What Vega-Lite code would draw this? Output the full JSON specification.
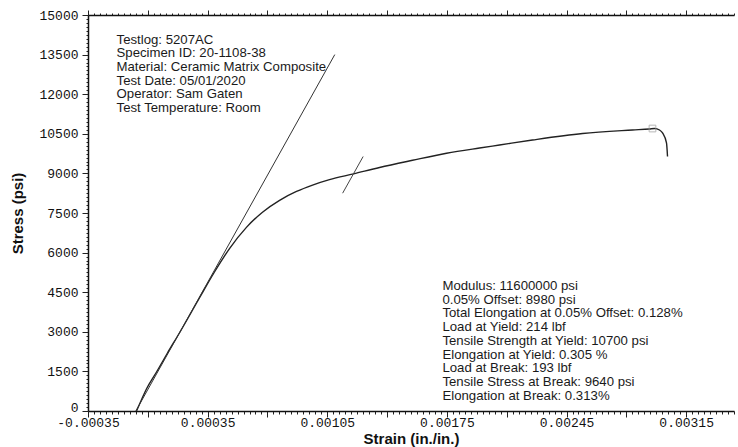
{
  "$schema": "https://vega.github.io/schema/vega-lite/v6.json",
  "autosize": "none",
  "width": 646,
  "height": 396,
  "padding": {"left": 88, "top": 15, "right": 4, "bottom": 36},
  "background": "white",
  "config": {
    "view": {"stroke": null},
    "axis": {
      "domainColor": "#111",
      "domainWidth": 1.5,
      "tickColor": "#222",
      "tickWidth": 1,
      "grid": false,
      "labelFont": "Liberation Mono",
      "labelFontSize": 13,
      "labelColor": "#111",
      "titleFont": "Liberation Sans",
      "titleFontSize": 15,
      "titleFontWeight": "bold",
      "titleColor": "#111",
      "labelOverlap": false,
      "labelFlush": false,
      "labelBound": false
    }
  },
  "resolve": {"axis": {"x": "independent", "y": "independent"}},
  "layer": [
    {
      "description": "Stress-strain curve of the specimen, with the bottom and left axes",
      "data": {
        "name": "curve",
        "values": [
          {"strain": -0.000066, "stress": 0},
          {"strain": -0.000043, "stress": 341},
          {"strain": -0.000008, "stress": 833},
          {"strain": 0.000051, "stress": 1477},
          {"strain": 0.000115, "stress": 2197},
          {"strain": 0.000185, "stress": 2955},
          {"strain": 0.000302, "stress": 4280},
          {"strain": 0.00039, "stress": 5265},
          {"strain": 0.000478, "stress": 6152},
          {"strain": 0.000577, "stress": 6955},
          {"strain": 0.000671, "stress": 7531},
          {"strain": 0.000771, "stress": 7981},
          {"strain": 0.00087, "stress": 8315},
          {"strain": 0.000964, "stress": 8557},
          {"strain": 0.001063, "stress": 8762},
          {"strain": 0.001204, "stress": 8980},
          {"strain": 0.001356, "stress": 9224},
          {"strain": 0.001549, "stress": 9496},
          {"strain": 0.001748, "stress": 9762},
          {"strain": 0.001941, "stress": 9962},
          {"strain": 0.002058, "stress": 10076},
          {"strain": 0.002251, "stress": 10265},
          {"strain": 0.002544, "stress": 10512},
          {"strain": 0.002836, "stress": 10644},
          {"strain": 0.002935, "stress": 10682},
          {"strain": 0.002965, "stress": 10700},
          {"strain": 0.002994, "stress": 10644},
          {"strain": 0.003012, "stress": 10531},
          {"strain": 0.003035, "stress": 10152},
          {"strain": 0.003041, "stress": 9640}
        ]
      },
      "mark": {"type": "line", "color": "#222", "strokeWidth": 1.4, "interpolate": "monotone"},
      "encoding": {
        "order": {"field": "strain", "type": "quantitative"},
        "x": {
          "field": "strain",
          "type": "quantitative",
          "scale": {"domain": [-0.00035, 0.00343], "nice": false, "zero": false},
          "axis": {
            "orient": "bottom",
            "title": "Strain (in./in.)",
            "titlePadding": 2,
            "labelPadding": -1,
            "values": [-0.00035, -0.000315, -0.00028, -0.000245, -0.00021, -0.000175, -0.00014, -0.000105, -0.00007, -0.000035, 0, 0.000035, 0.00007, 0.000105, 0.00014, 0.000175, 0.00021, 0.000245, 0.00028, 0.000315, 0.00035, 0.000385, 0.00042, 0.000455, 0.00049, 0.000525, 0.00056, 0.000595, 0.00063, 0.000665, 0.0007, 0.000735, 0.00077, 0.000805, 0.00084, 0.000875, 0.00091, 0.000945, 0.00098, 0.001015, 0.00105, 0.001085, 0.00112, 0.001155, 0.00119, 0.001225, 0.00126, 0.001295, 0.00133, 0.001365, 0.0014, 0.001435, 0.00147, 0.001505, 0.00154, 0.001575, 0.00161, 0.001645, 0.00168, 0.001715, 0.00175, 0.001785, 0.00182, 0.001855, 0.00189, 0.001925, 0.00196, 0.001995, 0.00203, 0.002065, 0.0021, 0.002135, 0.00217, 0.002205, 0.00224, 0.002275, 0.00231, 0.002345, 0.00238, 0.002415, 0.00245, 0.002485, 0.00252, 0.002555, 0.00259, 0.002625, 0.00266, 0.002695, 0.00273, 0.002765, 0.0028, 0.002835, 0.00287, 0.002905, 0.00294, 0.002975, 0.00301, 0.003045, 0.00308, 0.003115, 0.00315, 0.003185, 0.00322, 0.003255, 0.00329, 0.003325, 0.00336, 0.003395, 0.00343],
            "tickSize": {"condition": {"test": "abs(datum.value / 0.00035 - round(datum.value / 0.00035)) < 0.01", "value": 6}, "value": 3},
            "labelExpr": "abs(datum.value / 0.00035 - round(datum.value / 0.00035)) < 0.01 && abs(round(datum.value / 0.00035)) % 2 == 1 ? replace(format(datum.value, '.5f'), '\u2212', '-') : ''"
          }
        },
        "y": {
          "field": "stress",
          "type": "quantitative",
          "scale": {"domain": [0, 15000], "nice": false, "zero": false},
          "axis": {
            "orient": "left",
            "title": "Stress (psi)",
            "titlePadding": 13,
            "labelPadding": 4,
            "format": "d",
            "values": [0, 150, 300, 450, 600, 750, 900, 1050, 1200, 1350, 1500, 1650, 1800, 1950, 2100, 2250, 2400, 2550, 2700, 2850, 3000, 3150, 3300, 3450, 3600, 3750, 3900, 4050, 4200, 4350, 4500, 4650, 4800, 4950, 5100, 5250, 5400, 5550, 5700, 5850, 6000, 6150, 6300, 6450, 6600, 6750, 6900, 7050, 7200, 7350, 7500, 7650, 7800, 7950, 8100, 8250, 8400, 8550, 8700, 8850, 9000, 9150, 9300, 9450, 9600, 9750, 9900, 10050, 10200, 10350, 10500, 10650, 10800, 10950, 11100, 11250, 11400, 11550, 11700, 11850, 12000, 12150, 12300, 12450, 12600, 12750, 12900, 13050, 13200, 13350, 13500, 13650, 13800, 13950, 14100, 14250, 14400, 14550, 14700, 14850, 15000],
            "tickSize": {"condition": {"test": "datum.value % 1500 == 0", "value": 6}, "value": 2},
            "labelOffset": {"condition": {"test": "datum.value == 0", "value": -4}, "value": 0},
            "labelExpr": "datum.value % 1500 == 0 ? datum.label : ''"
          }
        }
      }
    },
    {
      "description": "Modulus line (11,600,000 psi), carrying the top axis",
      "data": {
        "name": "modulus",
        "values": [
          {"strain": -0.00007, "stress": 0},
          {"strain": 0.001094, "stress": 13500}
        ]
      },
      "mark": {"type": "line", "color": "#333", "strokeWidth": 1},
      "encoding": {
        "x": {
          "field": "strain",
          "type": "quantitative",
          "scale": {"domain": [-0.00035, 0.00343], "nice": false, "zero": false},
          "axis": {
            "orient": "top",
            "title": null,
            "labels": false,
            "values": [-0.00035, -0.000315, -0.00028, -0.000245, -0.00021, -0.000175, -0.00014, -0.000105, -0.00007, -0.000035, 0, 0.000035, 0.00007, 0.000105, 0.00014, 0.000175, 0.00021, 0.000245, 0.00028, 0.000315, 0.00035, 0.000385, 0.00042, 0.000455, 0.00049, 0.000525, 0.00056, 0.000595, 0.00063, 0.000665, 0.0007, 0.000735, 0.00077, 0.000805, 0.00084, 0.000875, 0.00091, 0.000945, 0.00098, 0.001015, 0.00105, 0.001085, 0.00112, 0.001155, 0.00119, 0.001225, 0.00126, 0.001295, 0.00133, 0.001365, 0.0014, 0.001435, 0.00147, 0.001505, 0.00154, 0.001575, 0.00161, 0.001645, 0.00168, 0.001715, 0.00175, 0.001785, 0.00182, 0.001855, 0.00189, 0.001925, 0.00196, 0.001995, 0.00203, 0.002065, 0.0021, 0.002135, 0.00217, 0.002205, 0.00224, 0.002275, 0.00231, 0.002345, 0.00238, 0.002415, 0.00245, 0.002485, 0.00252, 0.002555, 0.00259, 0.002625, 0.00266, 0.002695, 0.00273, 0.002765, 0.0028, 0.002835, 0.00287, 0.002905, 0.00294, 0.002975, 0.00301, 0.003045, 0.00308, 0.003115, 0.00315, 0.003185, 0.00322, 0.003255, 0.00329, 0.003325, 0.00336, 0.003395, 0.00343],
            "tickSize": {"condition": {"test": "abs(datum.value / 0.00035 - round(datum.value / 0.00035)) < 0.01", "value": 5}, "value": 2}
          }
        },
        "y": {
          "field": "stress",
          "type": "quantitative",
          "scale": {"domain": [0, 15000], "nice": false, "zero": false},
          "axis": null
        }
      }
    },
    {
      "description": "Short marker parallel to the modulus at the 0.05% offset yield",
      "data": {
        "name": "offset",
        "values": [
          {"strain": 0.00114, "stress": 8250},
          {"strain": 0.00126, "stress": 9640}
        ]
      },
      "mark": {"type": "line", "color": "#444", "strokeWidth": 1},
      "encoding": {
        "x": {"field": "strain", "type": "quantitative", "scale": {"domain": [-0.00035, 0.00343], "nice": false, "zero": false}, "axis": null},
        "y": {"field": "stress", "type": "quantitative", "scale": {"domain": [0, 15000], "nice": false, "zero": false}, "axis": null}
      }
    },
    {
      "description": "Peak marker at the tensile strength",
      "data": {
        "name": "peak",
        "values": [{"strain": 0.002953, "stress": 10700}]
      },
      "mark": {"type": "point", "shape": "square", "filled": false, "size": 45, "color": "#999", "strokeWidth": 1},
      "encoding": {
        "x": {"field": "strain", "type": "quantitative", "scale": {"domain": [-0.00035, 0.00343], "nice": false, "zero": false}, "axis": null},
        "y": {"field": "stress", "type": "quantitative", "scale": {"domain": [0, 15000], "nice": false, "zero": false}, "axis": null}
      }
    },
    {
      "description": "Test header block",
      "data": {"values": [{}]},
      "mark": {
        "type": "text",
        "align": "left",
        "baseline": "alphabetic",
        "font": "Liberation Sans",
        "fontSize": 13.2,
        "lineHeight": 13.7,
        "color": "#1a1a1a",
        "text": ["Testlog: 5207AC", "Specimen ID: 20-1108-38", "Material: Ceramic Matrix Composite", "Test Date: 05/01/2020", "Operator: Sam Gaten", "Test Temperature: Room"]
      },
      "encoding": {
        "x": {"datum": -0.000183, "type": "quantitative", "scale": {"domain": [-0.00035, 0.00343], "nice": false, "zero": false}, "axis": null},
        "y": {"datum": 13920, "type": "quantitative", "scale": {"domain": [0, 15000], "nice": false, "zero": false}, "axis": null}
      }
    },
    {
      "description": "Results block",
      "data": {"values": [{}]},
      "mark": {
        "type": "text",
        "align": "left",
        "baseline": "alphabetic",
        "font": "Liberation Sans",
        "fontSize": 13.2,
        "lineHeight": 13.7,
        "color": "#1a1a1a",
        "text": ["Modulus: 11600000 psi", "0.05% Offset: 8980 psi", "Total Elongation at 0.05% Offset: 0.128%", "Load at Yield: 214 lbf", "Tensile Strength at Yield: 10700 psi", "Elongation at Yield: 0.305 %", "Load at Break: 193 lbf", "Tensile Stress at Break: 9640 psi", "Elongation at Break: 0.313%"]
      },
      "encoding": {
        "x": {"datum": 0.001724, "type": "quantitative", "scale": {"domain": [-0.00035, 0.00343], "nice": false, "zero": false}, "axis": null},
        "y": {"datum": 4583, "type": "quantitative", "scale": {"domain": [0, 15000], "nice": false, "zero": false}, "axis": null}
      }
    }
  ]
}
